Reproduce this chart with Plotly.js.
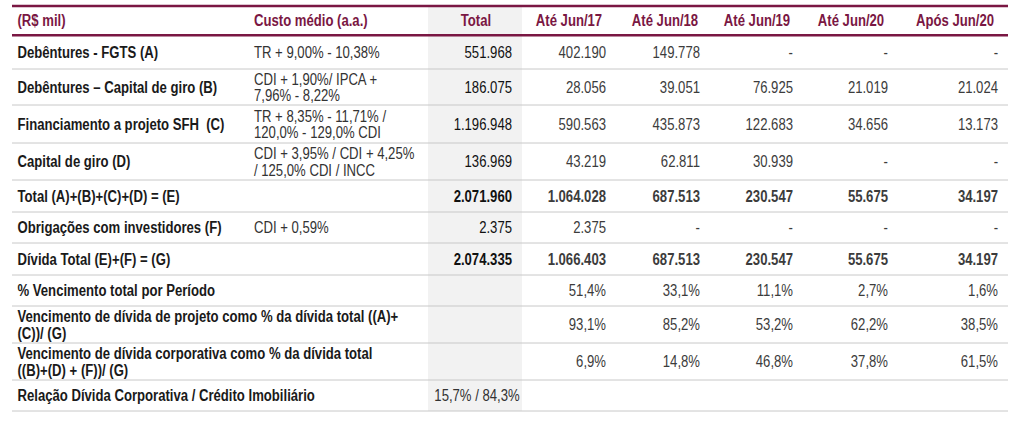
<!DOCTYPE html>
<html>
<head>
<meta charset="utf-8">
<script src="https://cdn.plot.ly/plotly-3.0.1.min.js"></script>
<style>html,body{margin:0;padding:0;background:#fff;}#chart{width:1016px;height:421px;}</style>
</head>
<body>
<div id="chart"></div>
<script>
// ---------- DATA ----------
const headers = ["(R$ mil)", "Custo médio (a.a.)", "Total", "Até Jun/17", "Até Jun/18", "Até Jun/19", "Até Jun/20", "Após Jun/20"];
const rowLabels = [
  "Debêntures - FGTS (A)",
  "Debêntures – Capital de giro (B)",
  "Financiamento a projeto SFH  (C)",
  "Capital de giro (D)",
  "Total (A)+(B)+(C)+(D) = (E)",
  "Obrigações com investidores (F)",
  "Dívida Total (E)+(F) = (G)",
  "% Vencimento total por Período",
  "Vencimento de dívida de projeto como % da dívida total ((A)+\n(C))/ (G)",
  "Vencimento de dívida corporativa como % da dívida total\n((B)+(D) + (F))/ (G)",
  "Relação Dívida Corporativa / Crédito Imobiliário"
];
const custoMedio = [
  "TR + 9,00% - 10,38%",
  "CDI + 1,90%/ IPCA +\n7,96% - 8,22%",
  "TR + 8,35% - 11,71% /\n120,0% - 129,0% CDI",
  "CDI + 3,95% / CDI + 4,25%\n/ 125,0% CDI / INCC",
  "", "CDI + 0,59%", "", "", "", "", ""
];
const totalCol  = ["551.968", "186.075", "1.196.948", "136.969", "2.071.960", "2.375", "2.074.335", "", "", "", ""];
const relacaoTotal = "15,7% / 84,3%";
const ateJun17  = ["402.190", "28.056", "590.563", "43.219", "1.064.028", "2.375", "1.066.403", "51,4%", "93,1%", "6,9%", ""];
const ateJun18  = ["149.778", "39.051", "435.873", "62.811", "687.513", "-", "687.513", "33,1%", "85,2%", "14,8%", ""];
const ateJun19  = ["-", "76.925", "122.683", "30.939", "230.547", "-", "230.547", "11,1%", "53,2%", "46,8%", ""];
const ateJun20  = ["-", "21.019", "34.656", "-", "55.675", "-", "55.675", "2,7%", "62,2%", "37,8%", ""];
const aposJun20 = ["-", "21.024", "13.173", "-", "34.197", "-", "34.197", "1,6%", "38,5%", "61,5%", ""];

// ---------- LAYOUT / STYLE ----------
const boldRows = [4, 6];
const FONT = "'Liberation Sans', Arial, sans-serif";
const FS = 16;
const NARROW = 0.82;          // horizontal condensing (Arial Narrow look)
const LINE_GAP = 16.5;
const TEXT_DY = 2;
const MAROON = "#7a1743";
const topLine = 6, headLine = 35.3;
const rowEdges = [35.3, 69, 105, 143, 180, 212, 243, 275, 306, 343, 380, 411];
const lineX0 = 12, lineX1 = 1008;
const grayX0 = 428, grayX1 = 522;
const colDefs = [
  {x: 17.5, pos: "middle right", hx: 17.5, hpos: "middle right", color: "#1a1a1a", boldAll: true},
  {x: 254, pos: "middle right", hx: 254, hpos: "middle right", color: "#333333"},
  {x: 512, pos: "middle left", hx: 476, hpos: "middle center", color: "#111111"},
  {x: 606, pos: "middle left", hx: 569, hpos: "middle center", color: "#3c3c3c"},
  {x: 700, pos: "middle left", hx: 665, hpos: "middle center", color: "#3c3c3c"},
  {x: 793, pos: "middle left", hx: 757, hpos: "middle center", color: "#3c3c3c"},
  {x: 888, pos: "middle left", hx: 851, hpos: "middle center", color: "#3c3c3c"},
  {x: 998, pos: "middle left", hx: 955, hpos: "middle center", color: "#3c3c3c"}
];
const columns = [rowLabels, custoMedio, totalCol, ateJun17, ateJun18, ateJun19, ateJun20, aposJun20];

const traces = [];
function addCells(values, def) {
  const xs = [], ys = [], ts = [];
  values.forEach((v, r) => {
    if (!v) return;
    const yc = (rowEdges[r] + rowEdges[r + 1]) / 2 + TEXT_DY;
    const lines = v.split("\n");
    const bold = def.boldAll || boldRows.includes(r);
    lines.forEach((ln, k) => {
      xs.push(def.x);
      ys.push(yc + (k - (lines.length - 1) / 2) * LINE_GAP);
      ts.push(bold ? "<b>" + ln + "</b>" : ln);
    });
  });
  traces.push({type: "scatter", mode: "text", x: xs, y: ys, text: ts, textposition: def.pos,
    textfont: {family: FONT, size: FS, color: def.color}, hoverinfo: "skip", showlegend: false, cliponaxis: false});
}
columns.forEach((col, ci) => addCells(col, colDefs[ci]));
traces.push({type: "scatter", mode: "text", x: [(grayX0 + grayX1) / 2 + 2],
  y: [(rowEdges[10] + rowEdges[11]) / 2 + TEXT_DY], text: [relacaoTotal], textposition: "middle center",
  textfont: {family: FONT, size: FS, color: "#333333"}, hoverinfo: "skip", showlegend: false, cliponaxis: false});
traces.push({type: "scatter", mode: "text", x: colDefs.map(d => d.hx), y: headers.map(() => (topLine + headLine) / 2 + 1.5),
  text: headers.map(h => "<b>" + h + "</b>"), textposition: colDefs.map(d => d.hpos),
  textfont: {family: FONT, size: FS, color: MAROON}, hoverinfo: "skip", showlegend: false, cliponaxis: false});

const shapes = [];
shapes.push({type: "rect", xref: "x", yref: "y", x0: grayX0, x1: grayX1, y0: topLine, y1: rowEdges[rowEdges.length - 1],
  fillcolor: "#f2f2f2", line: {width: 0}, layer: "below"});
rowEdges.slice(1).forEach(y => shapes.push({type: "line", xref: "x", yref: "y", x0: lineX0, x1: lineX1, y0: y, y1: y,
  line: {color: "#c8c8c8", width: 1}, layer: "below"}));
[topLine, headLine].forEach(y => shapes.push({type: "line", xref: "x", yref: "y", x0: lineX0, x1: lineX1, y0: y, y1: y,
  line: {color: MAROON, width: 2.6}, layer: "below"}));

const layout = {
  width: 1016, height: 421,
  margin: {l: 0, r: 0, t: 0, b: 0},
  paper_bgcolor: "#ffffff", plot_bgcolor: "#ffffff",
  xaxis: {range: [0, 1016], visible: false, fixedrange: true},
  yaxis: {range: [421, 0], visible: false, fixedrange: true},
  shapes: shapes,
  showlegend: false
};
function condense() {
  document.querySelectorAll("#chart .textpoint text").forEach(t => {
    const ax = parseFloat(t.getAttribute("x")) || 0;
    t.setAttribute("transform", "translate(" + ax + ",0) scale(" + NARROW + ",1) translate(" + (-ax) + ",0)");
  });
}
Plotly.newPlot("chart", traces, layout, {staticPlot: true, displayModeBar: false}).then(condense);
</script>
</body>
</html>
